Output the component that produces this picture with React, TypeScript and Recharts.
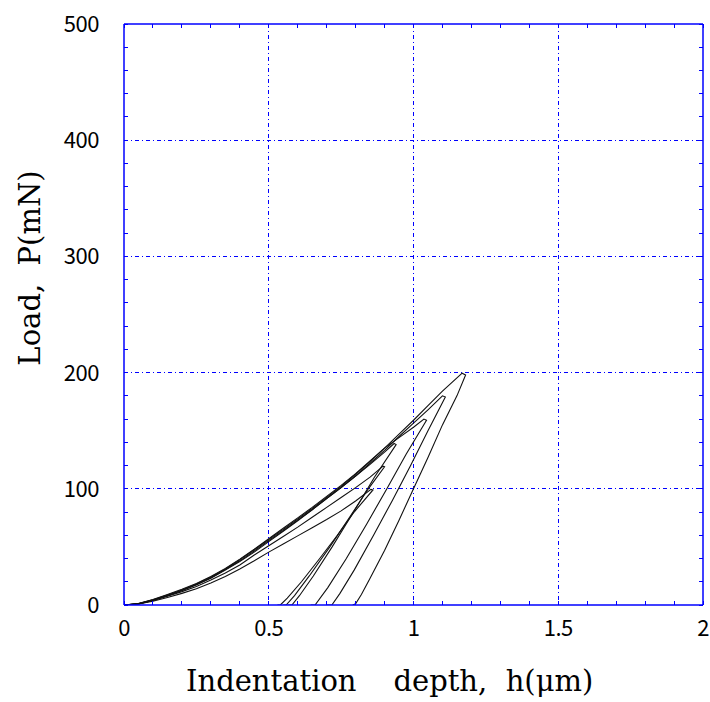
import { LineChart, Line, XAxis, YAxis, CartesianGrid } from 'recharts';

const BLUE = '#0000ff';

// axis ticks (minor ticks every 0.1 µm / 20 mN, labels on majors)
const xTicks = [0, 0.1, 0.2, 0.3, 0.4, 0.5, 0.6, 0.7, 0.8, 0.9, 1, 1.1, 1.2, 1.3, 1.4, 1.5, 1.6, 1.7, 1.8, 1.9, 2];
const yTicks = [0, 20, 40, 60, 80, 100, 120, 140, 160, 180, 200, 220, 240, 260, 280, 300, 320, 340, 360, 380, 400, 420, 440, 460, 480, 500];
const xGrid = [0.5, 1, 1.5];
const yGrid = [100, 200, 300, 400];

// [h (µm), P (mN)]
const load100 = [[0, 0], [0.05, 0.8], [0.1, 3.2], [0.15, 6.5], [0.2, 10], [0.25, 14], [0.3, 19], [0.35, 24.5], [0.4, 31], [0.45, 38], [0.5, 45.5], [0.55, 52.5], [0.6, 59.5], [0.65, 66.5], [0.7, 73.5], [0.75, 81], [0.8, 89.5], [0.853, 99.5]];
const unload100 = [[0.86, 99], [0.795, 80], [0.737, 60], [0.676, 40], [0.613, 20], [0.564, 6], [0.54, 0], [0.53, 0]];

const load120 = [[0, 0], [0.05, 1], [0.1, 3.8], [0.15, 7.5], [0.2, 11.5], [0.25, 16], [0.3, 21.5], [0.35, 27.5], [0.4, 34.5], [0.45, 43], [0.5, 51], [0.55, 59], [0.6, 67], [0.65, 75.5], [0.7, 84], [0.75, 92.5], [0.8, 101], [0.85, 110], [0.895, 119.5]];
const unload120 = [[0.9, 119], [0.844, 100], [0.778, 75], [0.711, 50], [0.64, 25], [0.589, 8], [0.56, 0], [0.55, 0]];

const load140 = [[0, 0], [0.05, 1], [0.1, 4], [0.15, 8], [0.2, 12.5], [0.25, 17.5], [0.3, 23], [0.35, 30], [0.4, 37.5], [0.45, 45.5], [0.5, 54.5], [0.55, 63.5], [0.6, 72.5], [0.65, 82], [0.7, 91.5], [0.75, 101], [0.8, 111], [0.85, 121], [0.9, 131.5], [0.933, 139]];
const unload140 = [[0.94, 138], [0.865, 110], [0.793, 80], [0.719, 50], [0.654, 25], [0.606, 8], [0.58, 0], [0.565, 0]];

const load160 = [[0, 0], [0.05, 1.3], [0.1, 4.8], [0.15, 9], [0.2, 13.5], [0.25, 18.5], [0.3, 24.5], [0.35, 31.5], [0.4, 39.5], [0.45, 48], [0.5, 57], [0.55, 66], [0.6, 75], [0.65, 84], [0.7, 93.5], [0.75, 103], [0.8, 113], [0.85, 124], [0.9, 135], [0.95, 144], [1.0, 153], [1.036, 160]];
const unload160 = [[1.045, 159], [0.975, 130], [0.908, 100], [0.839, 70], [0.768, 40], [0.704, 15], [0.66, 0], [0.645, 0]];

const load180 = [[0, 0], [0.05, 1], [0.1, 4.2], [0.15, 8], [0.2, 12.5], [0.25, 17.5], [0.3, 23.5], [0.35, 30.5], [0.4, 38], [0.45, 46.5], [0.5, 55.5], [0.55, 64], [0.6, 73], [0.65, 82], [0.7, 91.5], [0.75, 101], [0.8, 111], [0.85, 122], [0.9, 133], [0.95, 145], [1.0, 156.5], [1.05, 168], [1.1, 180]];
const unload180 = [[1.11, 179], [1.05, 150], [0.99, 120], [0.927, 90], [0.862, 60], [0.795, 30], [0.746, 10], [0.718, 0], [0.7, 0]];

const load200 = [[0, 0], [0.05, 1.2], [0.1, 4.5], [0.15, 8.5], [0.2, 13], [0.25, 18], [0.3, 24], [0.35, 31], [0.4, 39], [0.45, 47.5], [0.5, 56.5], [0.55, 65], [0.6, 74], [0.65, 83], [0.7, 92.5], [0.75, 102], [0.8, 112.5], [0.85, 123.5], [0.9, 135], [0.95, 147], [1.0, 159], [1.05, 171.5], [1.1, 184], [1.168, 199.5]];
const unload200 = [[1.18, 198], [1.15, 180], [1.1, 155], [1.05, 127], [1.0, 100], [0.95, 73], [0.9, 47], [0.85, 23], [0.82, 9], [0.8, 1], [0.79, 0]];

const toPts = (arr: number[][]) => arr.map(([h, p]) => ({ h, p }));

const cycles = [
  [...load100, ...unload100],
  [...load120, ...unload120],
  [...load140, ...unload140],
  [...load160, ...unload160],
  [...load180, ...unload180],
  [...load200, ...unload200],
].map(toPts);

const tickFont = { fontFamily: "'Noto Sans CJK JP', sans-serif", fontSize: 22, fill: '#000', letterSpacing: -0.5 };
const near = (v: number, step: number) => Math.abs(v / step - Math.round(v / step)) < 1e-6;
const TL = 4;

const BottomTick = ({ x, y, payload }: any) => (
  <g>
    <line x1={x} x2={x} y1={y} y2={y - TL} stroke={BLUE} shapeRendering="crispEdges" />
    {near(payload.value, 0.5) && (
      <text x={x} y={y + 31} textAnchor="middle" style={tickFont}>{String(payload.value)}</text>
    )}
  </g>
);

const TopTick = ({ x, y }: any) => (
  <line x1={x} x2={x} y1={y} y2={y + TL} stroke={BLUE} shapeRendering="crispEdges" />
);

const LeftTick = ({ x, y, payload }: any) => (
  <g>
    <line x1={x} x2={x + TL} y1={y} y2={y} stroke={BLUE} shapeRendering="crispEdges" />
    {near(payload.value, 100) && (
      <text x={x - 25} y={y + 8} textAnchor="end" style={tickFont}>{String(payload.value)}</text>
    )}
  </g>
);

const RightTick = ({ x, y }: any) => (
  <line x1={x} x2={x - TL} y1={y} y2={y} stroke={BLUE} shapeRendering="crispEdges" />
);

const titleFont = { fontFamily: "'DejaVu Serif', serif", fontSize: 29, color: '#000', whiteSpace: 'pre' as const };
const axisLine = { stroke: BLUE, strokeWidth: 1.5 };

export default function App() {
  return (
    <div style={{ position: 'absolute', left: 0, top: 0, width: 710, height: 702, background: '#fff' }}>
      <LineChart width={710} height={702} margin={{ top: 23, right: 6, bottom: 96, left: 0 }}>
        <CartesianGrid xAxisId="b" yAxisId="l" verticalValues={xGrid} horizontalValues={yGrid}
          stroke={BLUE} strokeDasharray="4 3 1 3" shapeRendering="crispEdges" />
        <XAxis xAxisId="b" orientation="bottom" type="number" dataKey="h" domain={[0, 2]} ticks={xTicks} interval={0}
          allowDataOverflow height={1} tickSize={0} tickMargin={0} tickLine={false} axisLine={axisLine}
          tick={(p: any) => <BottomTick {...p} />} />
        <XAxis xAxisId="t" orientation="top" type="number" dataKey="h" domain={[0, 2]} ticks={xTicks} interval={0}
          allowDataOverflow height={1} tickSize={0} tickMargin={0} tickLine={false} axisLine={axisLine}
          tick={(p: any) => <TopTick {...p} />} />
        <YAxis yAxisId="l" type="number" domain={[0, 500]} ticks={yTicks} interval={0} allowDataOverflow
          width={124} tickSize={0} tickMargin={0} tickLine={false} axisLine={axisLine}
          tick={(p: any) => <LeftTick {...p} />} />
        <YAxis yAxisId="r" orientation="right" type="number" domain={[0, 500]} ticks={yTicks} interval={0}
          allowDataOverflow width={1} tickSize={0} tickMargin={0} tickLine={false} axisLine={axisLine}
          tick={(p: any) => <RightTick {...p} />} />
        {cycles.map((c, i) => (
          <Line key={i} xAxisId="b" yAxisId="l" data={c} dataKey="p" type="linear" dot={false}
            stroke="#111" strokeWidth={1.1} isAnimationActive={false} />
        ))}
      </LineChart>
      <div style={{ ...titleFont, position: 'absolute', left: 186, top: 663, lineHeight: '36px' }}>
        {'Indentation    depth,  h(\u03bcm)'}
      </div>
      <div style={{ ...titleFont, position: 'absolute', left: 30, top: 268, lineHeight: '36px',
        transform: 'translate(-50%, -50%) rotate(-90deg)' }}>
        {'Load,  P(mN)'}
      </div>
    </div>
  );
}
